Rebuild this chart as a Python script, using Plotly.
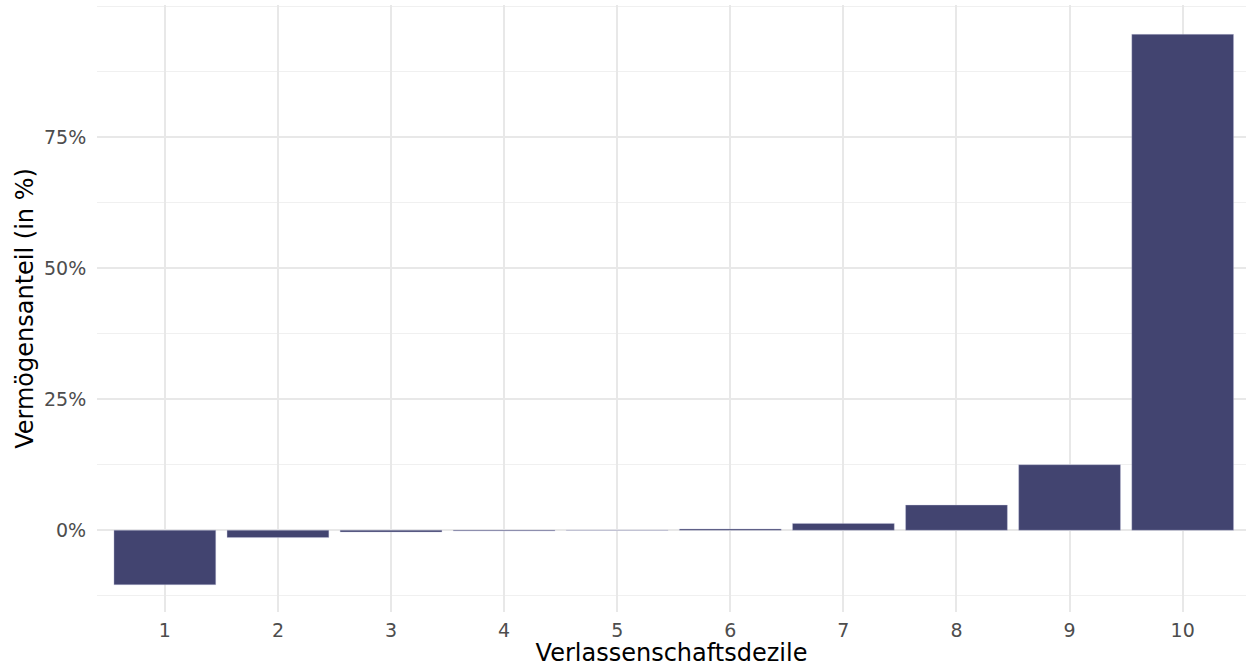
import plotly.graph_objects as go

deciles = [1, 2, 3, 4, 5, 6, 7, 8, 9, 10]
shares = [-10.4, -1.4, -0.35, -0.15, -0.03, 0.25, 1.3, 4.8, 12.5, 94.6]
y_ticks = [0, 25, 50, 75]
y_tick_labels = ["0%", "25%", "50%", "75%"]

fig = go.Figure()
fig.add_trace(go.Bar(
    x=deciles, y=shares, width=0.9,
    marker=dict(color="#424470", line=dict(color="rgba(200,200,225,0.6)", width=0.6)),
    showlegend=False,
))

grid = "#E8E8E8"
fig.update_layout(
    width=1246, height=667,
    margin=dict(l=97, r=0, t=5, b=55, autoexpand=False),
    paper_bgcolor="white", plot_bgcolor="white",
    font=dict(family="DejaVu Sans", size=19, color="#4D4D4D"),
    bargap=0.1,
    xaxis=dict(
        range=[0.4, 10.56], tickvals=deciles, ticktext=[str(d) for d in deciles],
        showgrid=True, gridcolor=grid, gridwidth=1.5, zeroline=False, showline=False,
        ticks="outside", ticklen=1, tickcolor="rgba(0,0,0,0)",
        tickfont=dict(size=19, color="#4D4D4D"),
        title=dict(text="Verlassenschaftsdezile", font=dict(size=24, color="black"), standoff=0),
    ),
    yaxis=dict(
        range=[-15.6, 100.2], tickvals=y_ticks, ticktext=y_tick_labels,
        showgrid=True, gridcolor=grid, gridwidth=1.5, zeroline=False, showline=False,
        ticks="outside", ticklen=6, tickcolor="rgba(0,0,0,0)",
        tickfont=dict(size=19, color="#4D4D4D"),
        minor=dict(dtick=12.5, tick0=0, showgrid=True, gridcolor="#F0F0F0", gridwidth=0.8),
        title=dict(text="Vermögensanteil (in %)", font=dict(size=24, color="black"), standoff=3),
    ),
)

fig.write_html("out.html", config={"displayModeBar": False},
               post_script="document.body.style.margin='0';")
